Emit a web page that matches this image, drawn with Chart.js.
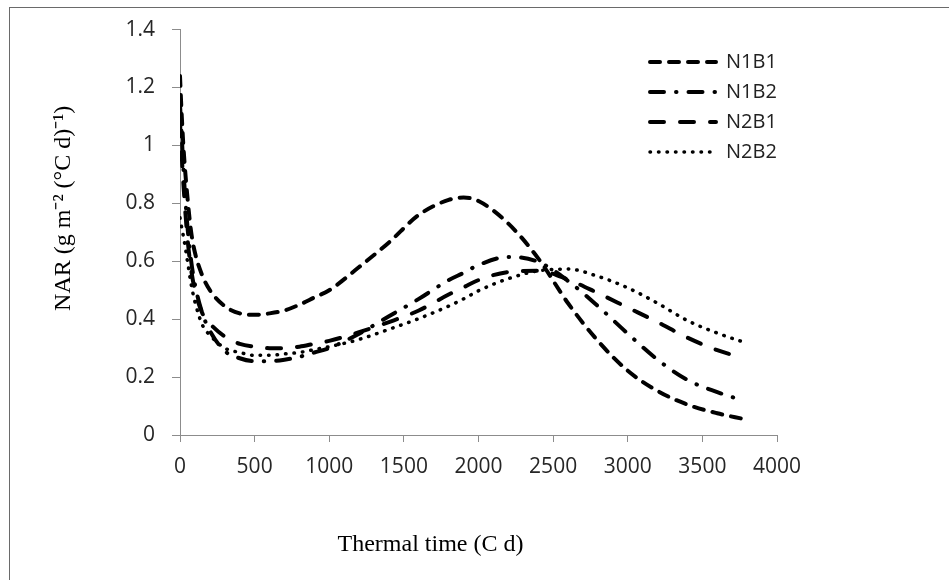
<!DOCTYPE html>
<html>
<head>
<meta charset="utf-8">
<script src="https://cdn.jsdelivr.net/npm/chart.js@4.4.1/dist/chart.umd.min.js"></script>
<style>
  html, body { margin: 0; padding: 0; background: #fff; }
  #wrap { position: relative; width: 949px; height: 580px; }
  #frame { position: absolute; left: 9px; top: 7px; right: 0; bottom: 0; border-left: 1px solid #6a6a6a; border-top: 1px solid #6a6a6a; }
  #nar-chart { position: absolute; left: 0; top: 0; }
</style>
</head>
<body>
<div id="wrap">
  <div id="frame"></div>
  <canvas id="nar-chart" width="949" height="580"></canvas>
</div>
<script>
    // thermal time (C d) shared by all series
    const thermalTime = [0, 10, 25, 50, 75, 100, 150, 200, 300, 400, 500, 600, 700, 800, 900, 1000,
        1200, 1400, 1600, 1800, 1900, 2000, 2200, 2400, 2600, 2800, 3000, 3200, 3400, 3600, 3780];

    const seriesNames = ['N1B1', 'N1B2', 'N2B1', 'N2B2'];

    const n1b1 = [1.24, 1.12, 0.98, 0.82, 0.70, 0.63, 0.55, 0.50, 0.445, 0.42, 0.415, 0.42, 0.43, 0.45, 0.475, 0.50,
        0.58, 0.665, 0.76, 0.812, 0.82, 0.808, 0.73, 0.61, 0.455, 0.325, 0.222, 0.152, 0.105, 0.075, 0.055];
    const n1b2 = [1.14, 1.05, 0.90, 0.72, 0.60, 0.52, 0.42, 0.36, 0.29, 0.265, 0.255, 0.255, 0.26, 0.27, 0.285, 0.30,
        0.35, 0.41, 0.47, 0.535, 0.56, 0.587, 0.615, 0.598, 0.532, 0.445, 0.35, 0.26, 0.19, 0.148, 0.118];
    const n2b1 = [1.08, 0.98, 0.85, 0.68, 0.57, 0.50, 0.42, 0.385, 0.34, 0.315, 0.305, 0.30, 0.30, 0.305, 0.315, 0.325,
        0.355, 0.39, 0.43, 0.485, 0.51, 0.535, 0.563, 0.567, 0.537, 0.49, 0.44, 0.39, 0.336, 0.293, 0.265];
    const n2b2 = [0.75, 0.72, 0.68, 0.60, 0.52, 0.46, 0.38, 0.345, 0.30, 0.285, 0.275, 0.275, 0.28, 0.285, 0.295, 0.305,
        0.33, 0.365, 0.402, 0.445, 0.47, 0.498, 0.54, 0.567, 0.573, 0.548, 0.508, 0.455, 0.395, 0.352, 0.32];

    const yTicks = { min: 0, max: 1.4, step: 0.2 };
    const xTicks = { min: 0, max: 4000, step: 500 };

    const lineStyles = [
        { dash: [10, 9], width: 4 },
        { dash: [14, 12, 0.5, 12], width: 4 },
        { dash: [14, 16], width: 4 },
        { dash: [0.5, 8], width: 3.5 }
    ];

    const allValues = [n1b1, n1b2, n2b1, n2b2];

    function toPoints(values) {
        return thermalTime.map((t, i) => ({ x: t, y: values[i] }));
    }

    const datasets = seriesNames.map((name, i) => ({
        label: name,
        data: toPoints(allValues[i]),
        borderColor: '#000',
        backgroundColor: '#000',
        borderWidth: lineStyles[i].width,
        borderDash: lineStyles[i].dash,
        borderCapStyle: 'round',
        cubicInterpolationMode: 'monotone',
        pointRadius: 0,
        fill: false
    }));

    // put the legend inside the plot, top right, like the original
    const legendInPlot = {
        id: 'legendInPlot',
        afterLayout(chart) {
            const lg = chart.legend;
            const w = lg.width, h = lg.height;
            lg.left = chart.chartArea.left + 460;
            lg.right = lg.left + w;
            lg.top = 42;
            lg.bottom = lg.top + h;
        }
    };

    const tickFont = { family: '"Open Sans", sans-serif', size: 21 };
    const titleFont = { family: '"Liberation Serif", "Times New Roman", serif', size: 24 };
    const nb = '\u00a0';

    new Chart(document.getElementById('nar-chart'), {
        type: 'line',
        data: { datasets },
        plugins: [legendInPlot],
        options: {
            responsive: false,
            animation: false,
            layout: { padding: { left: 0, top: 21, right: 172, bottom: 0 } },
            plugins: {
                tooltip: { enabled: false },
                legend: {
                    position: 'chartArea',
                    align: 'start',
                    labels: {
                        usePointStyle: true,
                        pointStyleWidth: 66,
                        padding: 10,
                        color: '#222',
                        font: { family: '"Open Sans", sans-serif', size: 20 },
                        generateLabels: (chart) => chart.data.datasets.map((ds, i) => ({
                            text: ds.label,
                            fontColor: '#222',
                            strokeStyle: ds.borderColor,
                            fillStyle: ds.borderColor,
                            lineWidth: ds.borderWidth,
                            lineDash: ds.borderDash,
                            lineCap: ds.borderCapStyle,
                            pointStyle: 'line',
                            rotation: 180,
                            hidden: false,
                            datasetIndex: i
                        }))
                    }
                }
            },
            scales: {
                x: {
                    type: 'linear',
                    min: xTicks.min,
                    max: xTicks.max,
                    afterFit: (scale) => { scale.height = 145; },
                    border: { color: '#8c8c8c', width: 1 },
                    grid: { drawOnChartArea: false, drawTicks: true, tickLength: 7, color: '#8c8c8c' },
                    ticks: {
                        stepSize: xTicks.step,
                        padding: 12,
                        color: '#262626',
                        font: tickFont,
                        maxRotation: 0,
                        callback: (v) => String(v)
                    },
                    title: {
                        display: true,
                        text: 'Thermal time (C d)' + nb.repeat(16),
                        color: '#000',
                        font: titleFont,
                        padding: { top: 0, bottom: 21 }
                    }
                },
                y: {
                    min: yTicks.min,
                    max: yTicks.max,
                    afterFit: (scale) => { scale.width = 180; },
                    border: { color: '#8c8c8c', width: 1 },
                    grid: { drawOnChartArea: false, drawTicks: true, tickLength: 8, color: '#8c8c8c' },
                    ticks: {
                        stepSize: yTicks.step,
                        padding: 17,
                        color: '#262626',
                        font: tickFont,
                        callback: (v) => String(+v.toFixed(1))
                    },
                    title: {
                        display: true,
                        text: nb.repeat(8) + 'NAR (g m\u207B\u00B2 (\u00B0C d)\u207B\u00B9)',
                        color: '#000',
                        font: titleFont,
                        padding: { top: 49, bottom: 0 }
                    }
                }
            }
        }
    });
</script>
</body>
</html>
